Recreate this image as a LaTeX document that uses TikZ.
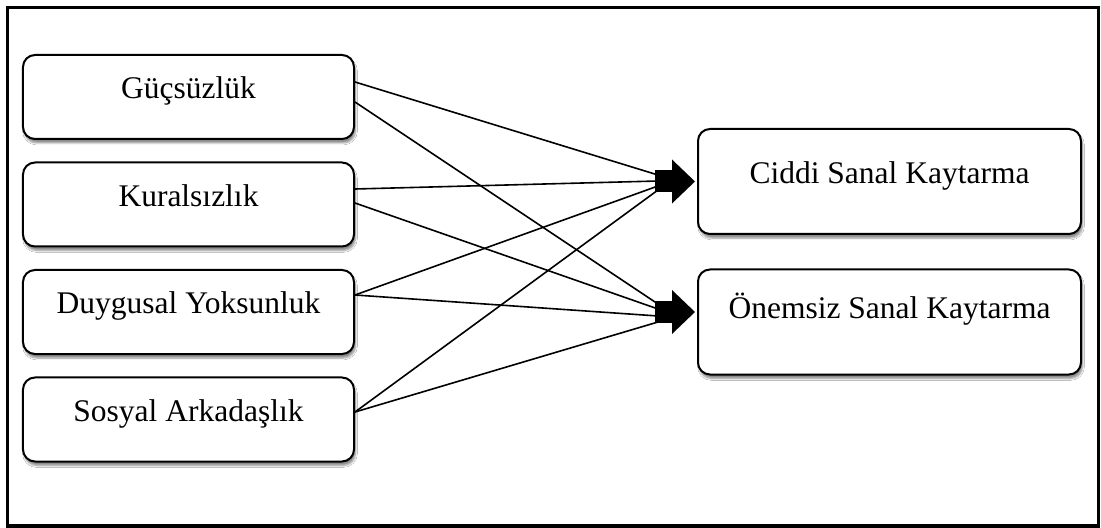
\documentclass[tikz,border=0pt]{standalone}
\usepackage{fontspec}
\setmainfont{Liberation Serif}
\usetikzlibrary{arrows.meta,calc,shadows.blur}
\tikzset{
  box/.style={draw=black, line width=2bp, fill=white, rounded corners=12bp,
    inner sep=0pt, font=\fontsize{31.5bp}{36bp}\selectfont,
    text height=21bp, text depth=17bp,
    blur shadow={shadow xshift=1.5bp, shadow yshift=-4bp, shadow blur steps=6, shadow opacity=45}},
  lbox/.style={box, minimum width=331bp, minimum height=84bp},
  rbox/.style={box, minimum width=383bp, minimum height=105bp},
  link/.style={draw=black, line width=1.6bp}
}
\begin{document}
\begin{tikzpicture}[x=1bp,y=-1bp]
\useasboundingbox (0,0) rectangle (1101,528);
\fill[white] (0,0) rectangle (1101,528);
\draw[line width=3.5bp] (7.5,7.5) rectangle (1098.5,526);

\node[lbox] (lb1) at (188.5,97) {Güçsüzlük};
\node[lbox] (lb2) at (188.5,204.5) {Kuralsızlık};
\node[lbox] (lb3) at (188.5,312) {Duygusal Yoksunluk};
\node[lbox] (lb4) at (188.5,419.5) {Sosyal Arkadaşlık};

\node[rbox] (rb1) at (889.5,181.5) {Ciddi Sanal Kaytarma};
\node[rbox, text depth=27bp] (rb2) at (889.5,322) {Önemsiz Sanal Kaytarma};

% arrow shaft starts
\coordinate (a1) at (655,181.5);
\coordinate (a2) at (655,312);
% line end points at the shafts
\coordinate (e11) at (658,175);
\coordinate (e12) at (658,181);
\coordinate (e13) at (658,186);
\coordinate (e14) at (658,190);
\coordinate (e21) at (658,304);
\coordinate (e22) at (658,309);
\coordinate (e23) at (658,316);
\coordinate (e24) at (658,322);

\draw[link] ($(lb1.east)+(0,-15)$) -- (e11);
\draw[link] ($(lb1.east)+(0,5)$) -- (e21);
\draw[link] ($(lb2.east)+(0,-15.5)$) -- (e12);
\draw[link] ($(lb2.east)+(0,-1.5)$) -- (e22);
\draw[link] ($(lb3.east)+(0,-17)$) -- (e13);
\draw[link] ($(lb3.east)+(0,-17)$) -- (e23);
\draw[link] ($(lb4.east)+(0,-7.5)$) -- (e14);
\draw[link] ($(lb4.east)+(0,-7.5)$) -- (e24);

\fill[black] (a1) ++(0,-11) rectangle ++(19,22);
\fill[black] (a2) ++(0,-11) rectangle ++(19,22);
\fill[black] ($(rb1.west)+(-25,-22)$) -- ($(rb1.west)+(-2,0)$) -- ($(rb1.west)+(-25,22)$) -- cycle;
\fill[black] ($(rb2.west)+(-25,-32)$) -- ($(rb2.west)+(-2,-10)$) -- ($(rb2.west)+(-25,12)$) -- cycle;
\end{tikzpicture}
\end{document}
